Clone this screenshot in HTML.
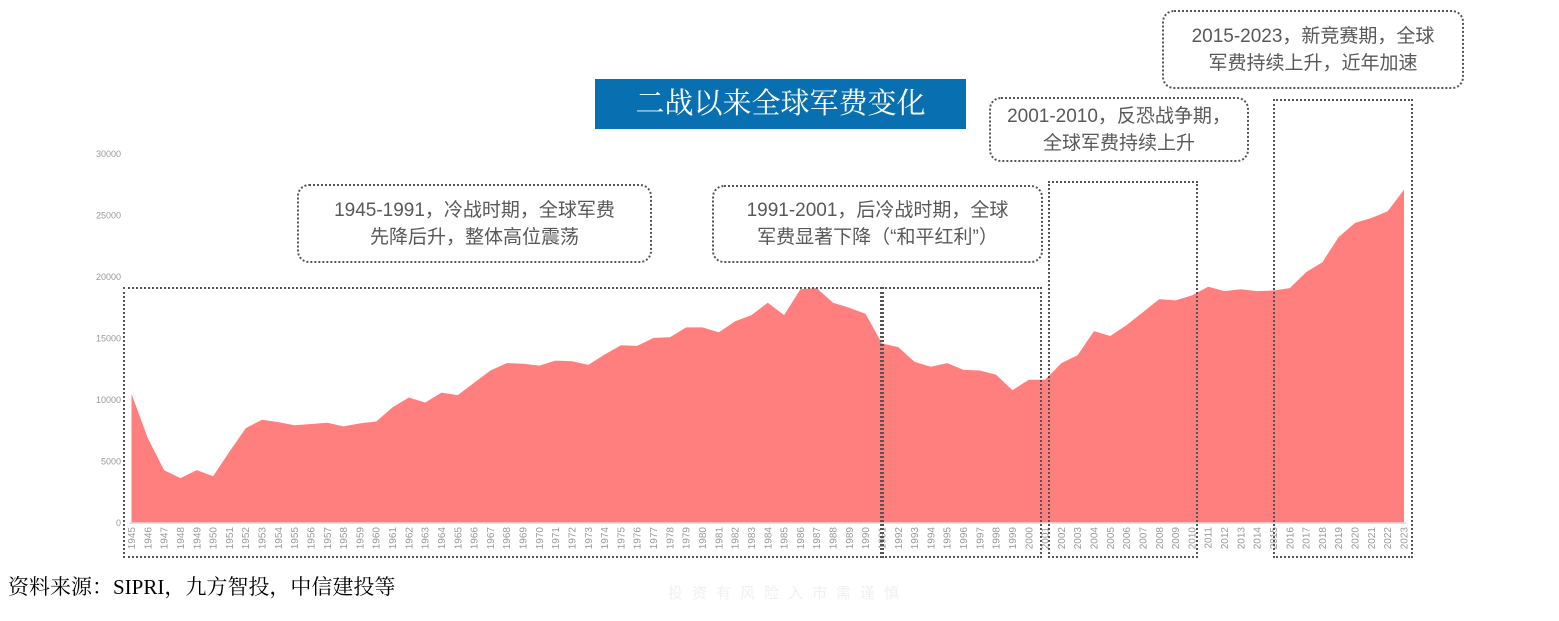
<!DOCTYPE html>
<html><head><meta charset="utf-8"><style>
body{margin:0;width:1559px;height:621px;background:#fff;position:relative;overflow:hidden;font-family:"Liberation Sans","Noto Sans CJK SC",sans-serif}
.box{position:absolute;border:2px dotted #555;box-sizing:border-box}
.note{position:absolute;border:2px dotted #555;border-radius:12px;box-sizing:border-box;color:#595959;font-size:19px;line-height:27px;text-align:center;display:flex;align-items:center;justify-content:center}
</style></head><body>
<div style="position:absolute;left:595px;top:79px;width:371px;height:50px;background:#0870b0;color:#fff;font-family:'Liberation Serif','Noto Serif CJK SC',serif;font-size:29px;line-height:50px;text-align:center">二战以来全球军费变化</div>
<svg id="chart" width="1559" height="621" style="position:absolute;left:0;top:0"></svg>
<div class="box" style="left:123px;top:287px;width:759px;height:271px"></div>
<div class="box" style="left:882px;top:287px;width:160px;height:271px"></div>
<div class="box" style="left:1048px;top:181px;width:150px;height:377px"></div>
<div class="box" style="left:1273px;top:99px;width:140px;height:459px"></div>
<div class="note" style="left:297px;top:184px;width:355px;height:79px">1945-1991，冷战时期，全球军费<br>先降后升，整体高位震荡</div>
<div class="note" style="left:712px;top:185px;width:331px;height:78px">1991-2001，后冷战时期，全球<br>军费显著下降（“和平红利”）</div>
<div class="note" style="left:989px;top:97px;width:260px;height:65px">2001-2010，反恐战争期，<br>全球军费持续上升</div>
<div class="note" style="left:1162px;top:10px;width:302px;height:79px">2015-2023，新竞赛期，全球<br>军费持续上升，近年加速</div>
<div style="position:absolute;left:8px;top:571px;font-family:'Liberation Serif','Noto Serif CJK SC',serif;font-size:21px;color:#000">资料来源：SIPRI，九方智投，中信建投等</div>
<div style="position:absolute;left:668px;top:582px;font-size:15px;color:#f0f0f0;letter-spacing:9px">投资有风险入市需谨慎</div>
<script>
const years=[];for(let y=1945;y<=2023;y++)years.push(y);
const values=[10500,6900,4300,3650,4300,3800,5800,7700,8400,8200,7950,8050,8150,7850,8100,8250,9400,10200,9800,10600,10400,11400,12400,13000,12950,12800,13200,13150,12850,13700,14450,14400,15050,15100,15900,15900,15500,16400,16900,17900,16900,19000,19100,17900,17500,17000,14600,14300,13100,12700,13000,12450,12400,12050,10800,11650,11650,13000,13650,15600,15200,16100,17150,18200,18100,18500,19200,18850,19000,18850,18900,19100,20400,21200,23250,24400,24800,25350,27100];
const yTicks=[0,5000,10000,15000,20000,25000,30000];
const svg=document.getElementById('chart');const NS='http://www.w3.org/2000/svg';
const x0=131.5,x1=1404,y0=523,yTop=154,vmax=30000;
const xs=i=>x0+(x1-x0)*i/(years.length-1);
const ys=v=>y0-(y0-yTop)*v/vmax;
const last=values.length-1;
let d='M'+xs(0)+','+y0;values.forEach((v,i)=>d+=' L'+xs(i).toFixed(1)+','+ys(v).toFixed(1));d+=' L'+xs(last)+','+y0+' Z';
const p=document.createElementNS(NS,'path');p.setAttribute('d',d);p.setAttribute('fill','#ff7f7f');


svg.appendChild(p);
const ax=document.createElementNS(NS,'line');ax.setAttribute('x1',xs(0)-2);ax.setAttribute('x2',xs(last)+2);ax.setAttribute('y1',y0);ax.setAttribute('y2',y0);ax.setAttribute('stroke','#d9d9d9');ax.setAttribute('stroke-width','1.5');


svg.appendChild(ax);
yTicks.forEach(t=>{const e=document.createElementNS(NS,'text');e.setAttribute('x',121);e.setAttribute('y',ys(t)+3);e.setAttribute('text-anchor','end');e.setAttribute('font-size','9');e.setAttribute('fill','#999');e.textContent=t;


svg.appendChild(e);});
years.forEach((yr,i)=>{const e=document.createElementNS(NS,'text');const X=xs(i)+3.5,Y=527;e.setAttribute('transform','translate('+X+','+Y+') rotate(-90)');e.setAttribute('text-anchor','end');e.setAttribute('font-size','10');e.setAttribute('fill','#999');e.textContent=yr;


svg.appendChild(e);});
</script>
</body></html>
